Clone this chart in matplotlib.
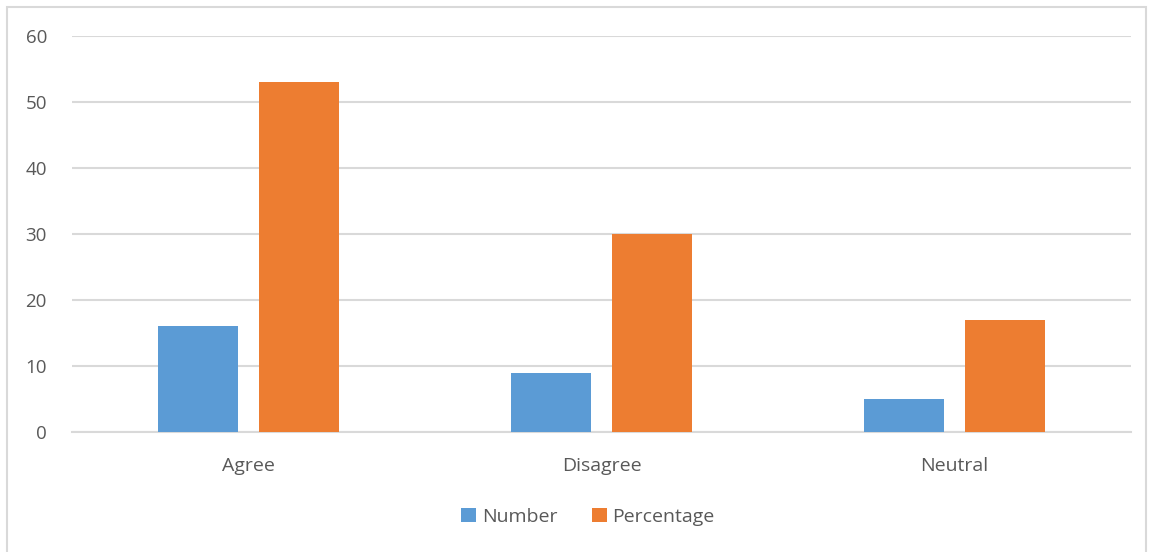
import matplotlib
matplotlib.use("Agg")
import matplotlib.pyplot as plt
from matplotlib.patches import Rectangle
import numpy as np

categories = ["Agree", "Disagree", "Neutral"]
number = [16, 9, 5]
percentage = [53, 30, 17]

blue = "#5B9BD5"
orange = "#ED7D31"
text_col = "#595959"
grid_col = "#D9D9D9"

plt.rcParams['font.family'] = ['Open Sans', 'DejaVu Sans']

fig = plt.figure(figsize=(11.53, 5.52), dpi=100)
ax = fig.add_axes([72 / 1153, 120 / 552, (1131 - 72) / 1153, (432 - 36) / 552])

x = np.arange(len(categories))
w = 0.224
off = 0.143
ax.bar(x - off, number, w, color=blue, label="Number", zorder=3)
ax.bar(x + off, percentage, w, color=orange, label="Percentage", zorder=3)

ax.set_xlim(-0.5, len(categories) - 0.5)
ax.set_ylim(0, 60)
ax.set_yticks(range(0, 61, 10))
ax.set_xticks(x)
ax.set_xticklabels(categories)
ax.yaxis.grid(True, color=grid_col, linewidth=1.5, zorder=0)
ax.tick_params(axis='both', length=0, labelsize=13.5, labelcolor=text_col)
ax.tick_params(axis='y', pad=18)
ax.tick_params(axis='x', labelsize=14, pad=18)
for s in ['top', 'right', 'left']:
    ax.spines[s].set_visible(False)
ax.spines['bottom'].set_color(grid_col)
ax.spines['bottom'].set_linewidth(1.5)

leg = fig.legend(loc='center', bbox_to_anchor=(588 / 1153, 1 - 517 / 552), ncol=2,
                 frameon=False, fontsize=14, handlelength=0.75, handleheight=0.75,
                 columnspacing=1.8, handletextpad=0.3)
for t in leg.get_texts():
    t.set_color(text_col)

# outer border of the chart
fig.patches.append(Rectangle((7 / 1153, -0.01), (1146 - 7) / 1153, 1 - 7 / 552 + 0.01,
                             transform=fig.transFigure, fill=False,
                             edgecolor="#D9D9D9", linewidth=1.5))

fig.savefig("out.png", dpi=100)
